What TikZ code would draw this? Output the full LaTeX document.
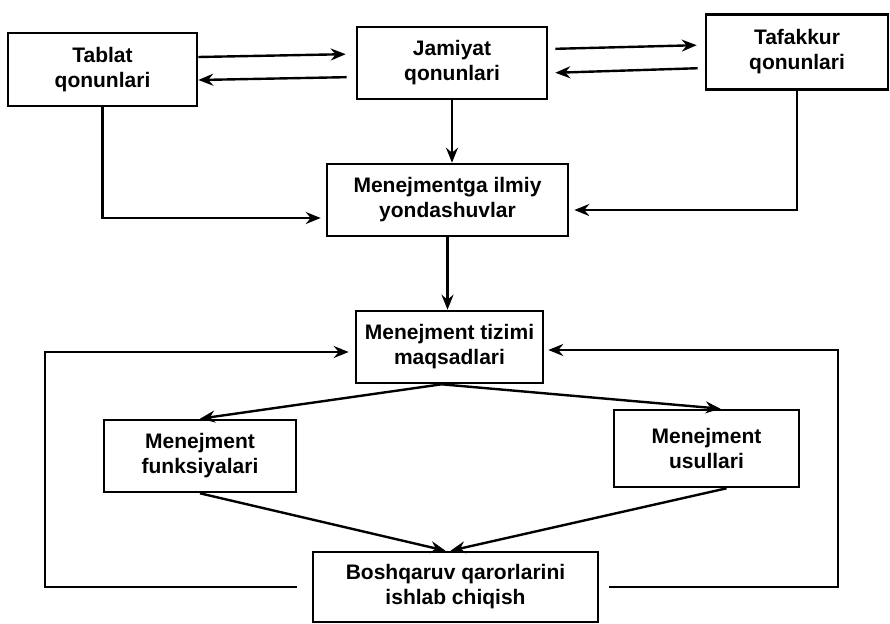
\documentclass[tikz,border=0pt]{standalone}
\usepackage{fontspec}
\setmainfont{Liberation Sans}
\usepackage{tikz}
\usetikzlibrary{arrows.meta}

\begin{document}
\begin{tikzpicture}[x=1pt,y=-1pt,
    box/.style={draw,line width=2.6pt,align=center,inner sep=0pt,
      font=\bfseries\fontsize{21}{25}\selectfont},
    arr/.style={line width=2.4pt,-{Stealth[length=15pt,width=12pt,inset=5pt]}}]
          \useasboundingbox (0,0) rectangle (890,623);
          \node[box,minimum width=189pt,minimum height=73pt] (tablat) at (102.5,69.5) {Tablat\\qonunlari};
          \node[box,minimum width=190pt,minimum height=72pt] (jamiyat) at (452,63) {Jamiyat\\qonunlari};
          \node[box,minimum width=182pt,minimum height=75pt] (tafakkur) at (797,52) {Tafakkur\\qonunlari};
          \node[box,minimum width=241pt,minimum height=72pt] (ilmiy) at (447.5,200) {Menejmentga ilmiy\\yondashuvlar};
          \node[box,minimum width=187pt,minimum height=72pt] (maqsad) at (449.5,347) {Menejment tizimi\\maqsadlari};
          \node[box,minimum width=192pt,minimum height=72pt] (funks) at (200,456) {Menejment\\funksiyalari};
          \node[box,minimum width=185pt,minimum height=77pt] (usul) at (706.5,448.5) {Menejment\\usullari};
          \node[box,minimum width=285pt,minimum height=70pt] (boshq) at (455.5,587) {Boshqaruv qarorlarini\\ishlab chiqish};
          \coordinate (fbl) at (45,352);
          \coordinate (fbr) at (838,350);
          \draw[arr,shorten >=10pt] (tablat.east |- 0,57) -- (jamiyat.west |- 0,54);
          \draw[arr,shorten <=9pt] (jamiyat.west |- 0,77) -- (tablat.east |- 0,80);
          \draw[arr,shorten <=7pt,shorten >=8pt] (jamiyat.east |- 0,49) -- (tafakkur.west |- 0,45);
          \draw[arr,shorten <=7pt,shorten >=7pt] (tafakkur.west |- 0,68) -- (jamiyat.east |- 0,73);
          \draw[arr] (jamiyat.south) -- (jamiyat.south |- ilmiy.north);
          \draw[arr,shorten >=5pt] (tablat.south) |- (ilmiy.west |- 0,218);
          \draw[arr,shorten >=5pt] (tafakkur.south) |- (ilmiy.east |- 0,210);
          \draw[arr] (ilmiy.south) -- (ilmiy.south |- maqsad.north);
          \draw[arr] ([xshift=-8pt]maqsad.south) -- (funks.north);
          \draw[arr] ([xshift=-8pt]maqsad.south) -- ([xshift=14pt]usul.north);
          \draw[arr] (funks.south) -- ([xshift=-10pt]boshq.north);
          \draw[arr] ([xshift=20pt]usul.south) -- ([xshift=-5pt]boshq.north);
          \draw[arr,shorten >=6pt] ([xshift=-15pt]boshq.west) -| (fbl) -- (maqsad.west |- fbl);
          \draw[arr,shorten >=4pt] ([xshift=10pt]boshq.east) -| (fbr) -- (maqsad.east |- fbr);
        \end{tikzpicture}
\end{document}
